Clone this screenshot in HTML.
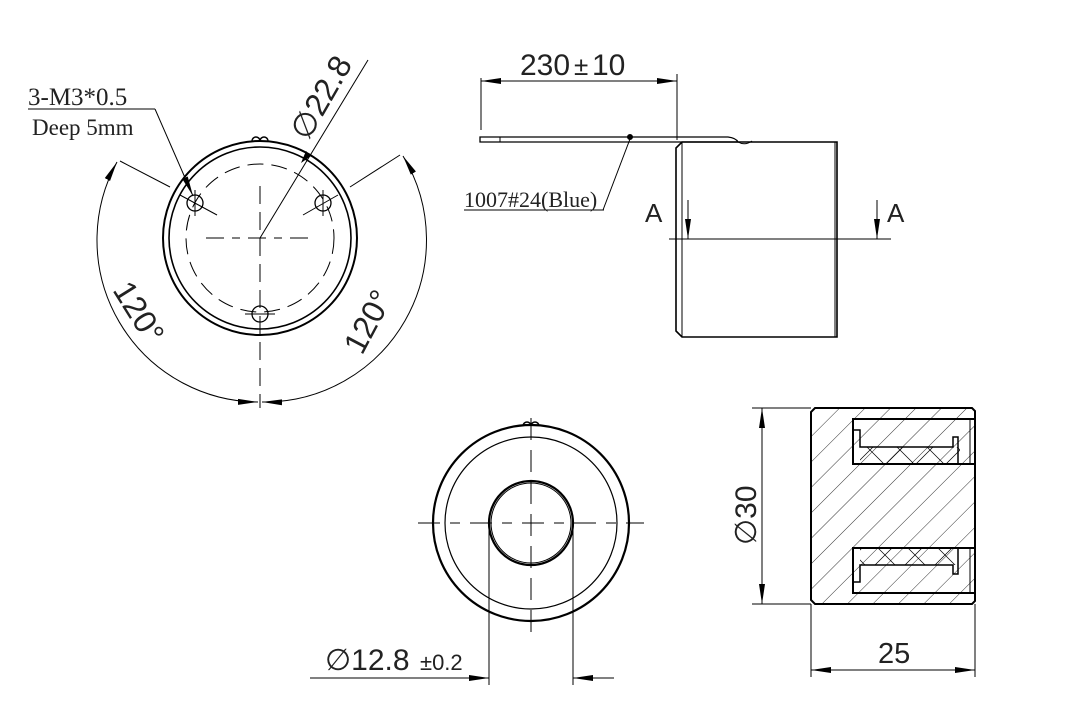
<!DOCTYPE html>
<html><head><meta charset="utf-8"><style>
html,body{margin:0;padding:0;background:#fff;width:1080px;height:720px;overflow:hidden}
svg{display:block}
.s{font-family:"Liberation Serif",serif;fill:#222}
.a{font-family:"Liberation Sans",sans-serif;fill:#222}
</style></head><body>
<svg width="1080" height="720" viewBox="0 0 1080 720" xmlns="http://www.w3.org/2000/svg">
<defs>
<pattern id="h" patternUnits="userSpaceOnUse" width="18" height="18" patternTransform="rotate(45)">
<line x1="0" y1="0" x2="0" y2="18" stroke="#000" stroke-width="0.8"/></pattern>
<pattern id="x" patternUnits="userSpaceOnUse" width="30" height="30">
<line x1="0" y1="0" x2="30" y2="30" stroke="#000" stroke-width="0.7"/><line x1="30" y1="0" x2="0" y2="30" stroke="#000" stroke-width="0.7"/></pattern>
<marker id="ar" markerWidth="20" markerHeight="8" refX="20" refY="4" orient="auto-start-reverse" markerUnits="userSpaceOnUse"><path d="M0,1 L20,4 L0,7 z" fill="#000"/></marker>
</defs>
<g fill="none" stroke="#000">
<!-- top-left view -->
<circle cx="260" cy="238" r="97" stroke-width="2"/>
<circle cx="260" cy="238" r="91" stroke-width="1.6"/>
<circle cx="260" cy="238" r="74" stroke-width="1" stroke-dasharray="16,8"/>
<path d="M252,141 a4,4 0 0 1 8,0 M260,141 a4,4 0 0 1 8,0" stroke-width="1.5"/>
<line x1="206" y1="238" x2="314" y2="238" stroke-dasharray="18,8,8,8"/>
<line x1="260" y1="186" x2="260" y2="408" stroke-dasharray="18,8"/>
<circle cx="195" cy="203" r="8" stroke-width="1.3"/>
<circle cx="323" cy="203" r="8" stroke-width="1.3"/>
<circle cx="260" cy="314" r="8" stroke-width="1.3"/>
<line x1="180" y1="195" x2="217" y2="215"/><line x1="338" y1="195" x2="303" y2="215"/>
<line x1="245" y1="314" x2="275" y2="314"/>
<line x1="195" y1="190" x2="195" y2="216"/><line x1="323" y1="190" x2="323" y2="216"/>
<line x1="120" y1="161" x2="170" y2="187"/><line x1="400" y1="155" x2="350" y2="187"/>
<path d="M117,162 A162,162 0 0 0 258,402" marker-start="url(#ar)" marker-end="url(#ar)" stroke-width="1"/>
<path d="M403,156 A162,162 0 0 1 262,402" marker-start="url(#ar)" marker-end="url(#ar)" stroke-width="1"/>
<line x1="28" y1="109" x2="155" y2="109"/>
<line x1="155" y1="109" x2="193" y2="196" marker-end="url(#ar)"/>
<line x1="260" y1="238" x2="368" y2="60"/>
<path d="M311,156 L301,163 L306,151z" fill="#000" stroke="none"/>
<!-- side view -->
<line x1="481" y1="78" x2="481" y2="130"/>
<line x1="677" y1="74" x2="677" y2="140"/>
<line x1="481" y1="81" x2="677" y2="81" marker-start="url(#ar)" marker-end="url(#ar)"/>
<path d="M480,137 L728,137 Q736,138 738,142 L480,142 Z" stroke-width="1.3"/>
<line x1="500" y1="137" x2="500" y2="142"/>
<circle cx="630" cy="137" r="2.5" fill="#000"/>
<line x1="630" y1="139" x2="603" y2="210"/>
<line x1="464" y1="210" x2="604" y2="210"/>
<path d="M682,142 L837,142 L837,337 L682,337 L676,331 L676,148 Z" stroke-width="1.6"/>
<line x1="682" y1="142" x2="682" y2="337"/>
<line x1="835" y1="142" x2="835" y2="337"/>
<path d="M738,142 Q745,146 752,141" stroke-width="1"/>
<line x1="669" y1="239" x2="891" y2="239"/>
<line x1="688" y1="200" x2="688" y2="239" marker-end="url(#ar)"/>
<line x1="877" y1="200" x2="877" y2="239" marker-end="url(#ar)"/>
<!-- bottom view -->
<circle cx="531" cy="523" r="98" stroke-width="2.2"/>
<circle cx="531" cy="523" r="86" stroke-width="1.2"/>
<circle cx="531" cy="523" r="42" stroke-width="2.2"/>
<circle cx="531" cy="523" r="40" stroke-width="1"/>
<path d="M523,426 a4,4 0 0 1 8,0 M531,426 a4,4 0 0 1 8,0" stroke-width="1.5"/>
<line x1="418" y1="523" x2="644" y2="523" stroke-dasharray="22,10,10,10"/>
<line x1="531" y1="418" x2="531" y2="637" stroke-dasharray="22,10"/>
<line x1="489" y1="523" x2="489" y2="685"/><line x1="573" y1="523" x2="573" y2="685"/>
<line x1="310" y1="678" x2="489" y2="678" marker-end="url(#ar)"/>
<line x1="614" y1="678" x2="573" y2="678" marker-end="url(#ar)"/>
<!-- section -->
<path d="M815,408 L972,408 L975,411 L975,601 L972,604 L815,604 L811,600 L811,412 Z" fill="url(#h)" stroke="none"/>
<rect x="853" y="419" width="122" height="45" fill="#fff" stroke="none"/>
<rect x="853" y="548" width="122" height="45" fill="#fff" stroke="none"/>
<rect x="853" y="419" width="122" height="45" fill="url(#h)" stroke="none"/>
<rect x="853" y="548" width="122" height="45" fill="url(#h)" stroke="none"/>
<rect x="860" y="447" width="100" height="17" fill="url(#x)" stroke="none"/>
<rect x="860" y="548" width="100" height="17" fill="url(#x)" stroke="none"/>
<path d="M815,408 L972,408 L975,411 L975,601 L972,604 L815,604 L811,600 L811,412 Z" stroke-width="2"/>
<path d="M975,419 L853,419 L853,464 L975,464" stroke-width="2"/>
<path d="M975,548 L853,548 L853,593 L975,593" stroke-width="2"/>
<path d="M854,430 L860,430 L860,447 L953,447 L953,437 L958,437 L958,464" stroke-width="1.5"/>
<path d="M854,582 L860,582 L860,565 L953,565 L953,574 L958,574 L958,548" stroke-width="1.5"/>
<line x1="970" y1="419" x2="970" y2="464"/><line x1="970" y1="548" x2="970" y2="593"/>
<line x1="752" y1="408" x2="811" y2="408"/><line x1="752" y1="604" x2="811" y2="604"/>
<line x1="762" y1="408" x2="762" y2="604" marker-start="url(#ar)" marker-end="url(#ar)"/>
<line x1="811" y1="604" x2="811" y2="677"/><line x1="975" y1="604" x2="975" y2="677"/>
<line x1="811" y1="670" x2="975" y2="670" marker-start="url(#ar)" marker-end="url(#ar)"/>
</g>
<text x="28" y="105" class="s" font-size="25">3-M3*0.5</text>
<text x="32" y="135" class="s" font-size="23">Deep 5mm</text>
<text x="464" y="207" class="s" font-size="22">1007#24(Blue)</text>
<text x="520" y="75" class="a" font-size="30">230</text>
<text x="574" y="75" class="a" font-size="26">±</text>
<text x="592" y="75" class="a" font-size="30">10</text>
<text x="645" y="222" class="a" font-size="26">A</text>
<text x="887" y="222" class="a" font-size="26">A</text>
<text class="a" font-size="32" transform="translate(308,142) rotate(-60)">∅22.8</text>
<text class="a" font-size="32" transform="translate(112,290) rotate(58)">120°</text>
<text class="a" font-size="32" transform="translate(362,356) rotate(-62)">120°</text>
<text x="325" y="670" class="a" font-size="30">∅12.8</text>
<text x="420" y="670" class="a" font-size="22">±0.2</text>
<text class="a" font-size="30" transform="translate(756,545) rotate(-90)">∅30</text>
<text x="878" y="663" class="a" font-size="29">25</text>
</svg>
</body></html>
